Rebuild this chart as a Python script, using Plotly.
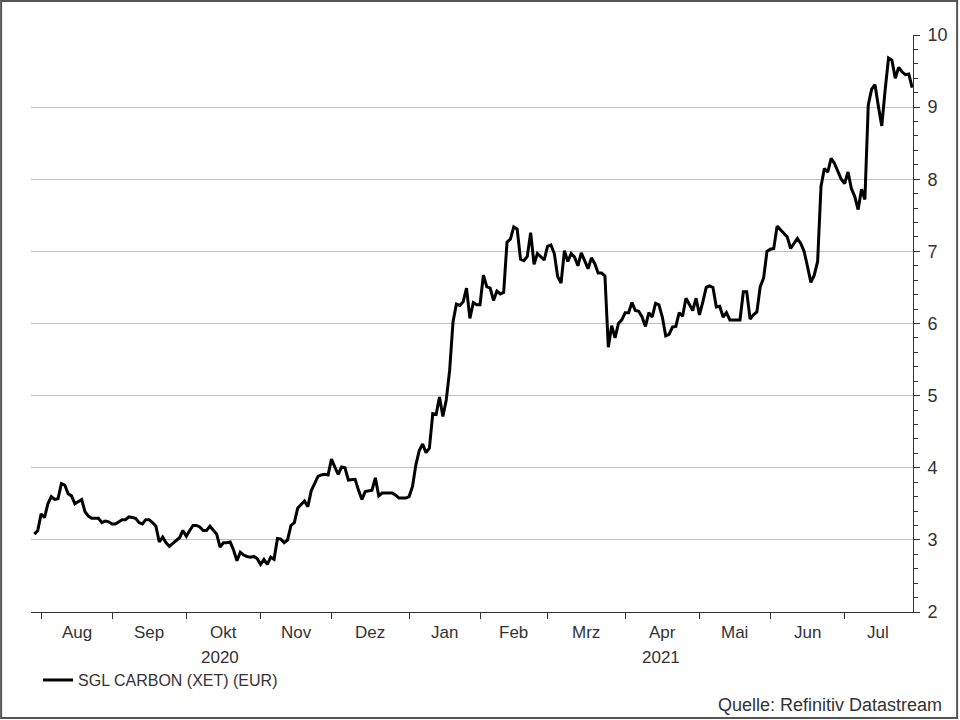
import numpy as np
import pandas as pd
import plotly.graph_objects as go

# ---------------- data ----------------
series_name = "SGL CARBON (XET) (EUR)"
source_text = "Quelle: Refinitiv Datastream"

dates = pd.bdate_range("2020-07-30", "2021-07-29")  # trading days (weekdays)

prices = [
    3.08, 3.13, 3.36, 3.31, 3.50, 3.60, 3.56, 3.57, 3.78, 3.76,
    3.64, 3.61, 3.50, 3.53, 3.56, 3.39, 3.33, 3.30, 3.30, 3.30,
    3.24, 3.26, 3.25, 3.22, 3.22, 3.25, 3.28, 3.28, 3.32, 3.31,
    3.30, 3.24, 3.22, 3.28, 3.28, 3.24, 3.19, 2.97, 3.04, 2.96,
    2.91, 2.95, 2.99, 3.03, 3.13, 3.05, 3.13, 3.20, 3.20, 3.18,
    3.13, 3.13, 3.19, 3.14, 3.08, 2.90, 2.96, 2.96, 2.97, 2.86,
    2.71, 2.83, 2.79, 2.77, 2.76, 2.77, 2.74, 2.66, 2.73, 2.66,
    2.76, 2.73, 3.02, 3.01, 2.96, 3.00, 3.20, 3.24, 3.44, 3.49,
    3.54, 3.46, 3.68, 3.78, 3.88, 3.90, 3.91, 3.90, 4.12, 4.01,
    3.91, 4.01, 4.00, 3.83, 3.83, 3.84, 3.69, 3.56, 3.67, 3.68,
    3.69, 3.86, 3.61, 3.65, 3.65, 3.65, 3.65, 3.62, 3.58, 3.58,
    3.58, 3.60, 3.74, 4.04, 4.24, 4.33, 4.21, 4.27, 4.75, 4.74,
    4.98, 4.71, 4.94, 5.35, 6.02, 6.27, 6.25, 6.30, 6.49, 6.07,
    6.29, 6.26, 6.26, 6.67, 6.51, 6.49, 6.32, 6.45, 6.41, 6.43,
    7.13, 7.17, 7.34, 7.31, 6.89, 6.87, 6.93, 7.26, 6.82, 6.97,
    6.92, 6.88, 7.07, 7.09, 6.97, 6.65, 6.56, 7.01, 6.86, 6.97,
    6.92, 6.80, 6.98, 6.86, 6.76, 6.91, 6.83, 6.70, 6.70, 6.66,
    5.67, 5.97, 5.80, 6.00, 6.05, 6.15, 6.15, 6.29, 6.18, 6.17,
    6.09, 5.96, 6.15, 6.09, 6.28, 6.26, 6.09, 5.83, 5.85, 5.95,
    5.96, 6.15, 6.10, 6.35, 6.26, 6.18, 6.35, 6.12, 6.30, 6.50,
    6.52, 6.50, 6.23, 6.24, 6.09, 6.15, 6.05, 6.05, 6.05, 6.05,
    6.44, 6.44, 6.06, 6.12, 6.16, 6.51, 6.63, 7.00, 7.03, 7.04,
    7.35, 7.30, 7.25, 7.20, 7.04, 7.11, 7.18, 7.11, 7.00, 6.79,
    6.57, 6.67, 6.86, 7.90, 8.15, 8.10, 8.29, 8.22, 8.12, 8.00,
    7.94, 8.10, 7.87, 7.76, 7.58, 7.86, 7.72, 9.03, 9.25, 9.31,
    9.01, 8.74, 9.24, 9.68, 9.65, 9.40, 9.55, 9.49, 9.45, 9.46,
    9.27,
]

month_labels = ["Aug", "Sep", "Okt", "Nov", "Dez", "Jan", "Feb", "Mrz",
                "Apr", "Mai", "Jun", "Jul"]
month_starts = ["2020-08-01", "2020-09-01", "2020-10-01", "2020-11-01",
                "2020-12-01", "2021-01-01", "2021-02-01", "2021-03-01",
                "2021-04-01", "2021-05-01", "2021-06-01", "2021-07-01"]
year_labels = ["2020", "2021"]
year_starts = ["2021-01-01"]
y_ticks = [2, 3, 4, 5, 6, 7, 8, 9, 10]

x_start, x_end = "2020-07-29", "2021-07-29 06:00"

# ---------------- helpers ----------------
bd = pd.offsets.BDay()
tick_pos = [bd.rollforward(pd.Timestamp(m)) for m in month_starts]


def bday_mid(a, b):
    a = pd.Timestamp(a)
    b = pd.Timestamp(b)
    n = int(np.busday_count(a.date(), b.date()))
    m = a + pd.offsets.BDay(n // 2) if n // 2 > 0 else a
    if n % 2:
        m = m + pd.Timedelta(hours=12)
    return m


bounds = tick_pos + [pd.Timestamp(x_end)]
month_mid = [bday_mid(bounds[i], bounds[i + 1]) for i in range(len(month_labels))]
ybounds = [pd.Timestamp(x_start)] + [bd.rollforward(pd.Timestamp(y)) for y in year_starts] + [pd.Timestamp(x_end)]
year_mid = [bday_mid(ybounds[i], ybounds[i + 1]) for i in range(len(year_labels))]

FONT = "Liberation Sans, Arial, sans-serif"
TXT = "#333333"

fig = go.Figure()
fig.add_trace(go.Scatter(
    x=dates, y=prices, mode="lines", name=series_name,
    line=dict(color="#000000", width=3),
))

fig.update_layout(
    width=960, height=720,
    margin=dict(l=31, r=44, t=35, b=108),
    paper_bgcolor="white", plot_bgcolor="white",
    font=dict(family=FONT, color=TXT, size=16),
    showlegend=True,
    legend=dict(x=0.008, y=-0.118, xanchor="left", yanchor="middle",
                orientation="h", bgcolor="rgba(0,0,0,0)",
                font=dict(size=16, color=TXT, family=FONT)),
    hovermode=False,
)

fig.update_xaxes(
    type="date", range=[x_start, x_end],
    rangebreaks=[dict(bounds=["sat", "mon"])],
    tickmode="array", tickvals=tick_pos, showticklabels=False,
    ticks="outside", ticklen=6, tickcolor="#333333", tickwidth=1,
    showline=True, linecolor="#333333", linewidth=1,
    showgrid=False, zeroline=False,
)

fig.update_yaxes(
    side="right", range=[2, 10], tickmode="array", tickvals=y_ticks,
    ticks="outside", ticklen=6, tickcolor="#333333", tickwidth=1,
    showline=True, linecolor="#333333", linewidth=1,
    showgrid=True, gridcolor="#c0c0c0", gridwidth=1, zeroline=False,
    tickfont=dict(size=18, color=TXT, family=FONT),
    ticklabelstandoff=4,
    minor=dict(dtick=0.2, ticks="outside", ticklen=4, tickcolor="#333333",
               showgrid=False),
)

annotations = []
for lab, pos in zip(month_labels, month_mid):
    annotations.append(dict(x=pos, y=-0.0347, xref="x", yref="paper",
                            text=lab, showarrow=False, xanchor="center",
                            yanchor="middle",
                            font=dict(size=17, color=TXT, family=FONT)))
for lab, pos in zip(year_labels, year_mid):
    annotations.append(dict(x=pos, y=-0.0797, xref="x", yref="paper",
                            text=lab, showarrow=False, xanchor="center",
                            yanchor="middle",
                            font=dict(size=17, color=TXT, family=FONT)))
annotations.append(dict(x=1.035, y=-0.161, xref="paper", yref="paper",
                        text=source_text, showarrow=False, xanchor="right",
                        yanchor="middle",
                        font=dict(size=18, color=TXT, family=FONT)))
fig.update_layout(annotations=annotations)

# outer frame around the whole picture
fig.add_shape(type="rect", xref="paper", yref="paper",
              x0=-0.0339, x1=1.05, y0=-0.1837, y1=1.0589,
              line=dict(color="#555555", width=2), fillcolor="rgba(0,0,0,0)",
              layer="above")

fig.write_html("out.html",
               config={"displayModeBar": False},
               post_script="document.body.style.margin='0';")
